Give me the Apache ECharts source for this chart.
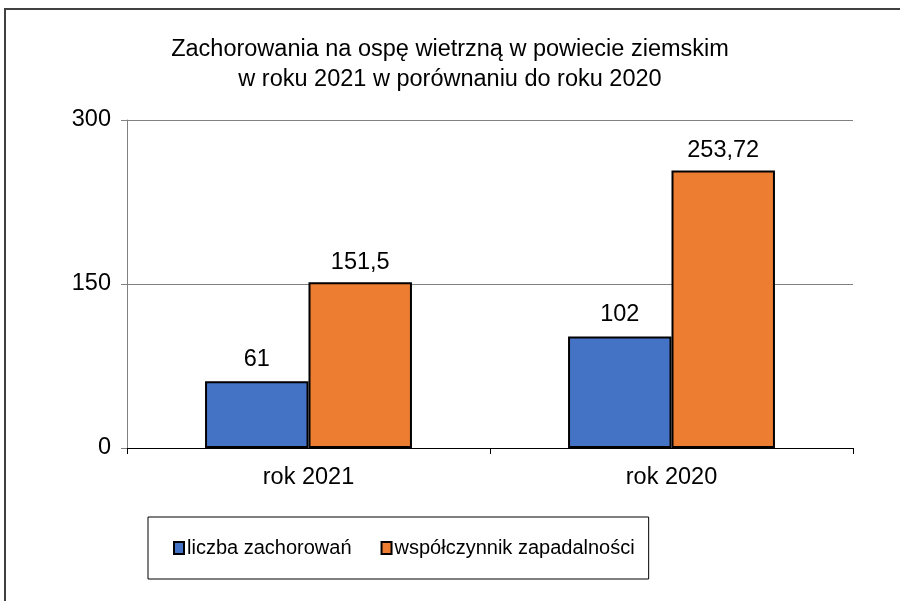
<!DOCTYPE html>
<html>
<head>
<meta charset="utf-8">
<script src="https://cdn.jsdelivr.net/npm/echarts@6/dist/echarts.min.js"></script>
<style>
  html, body { margin: 0; padding: 0; background: #fff; }
  #chart { width: 900px; height: 601px; }
</style>
</head>
<body>
<div id="chart"></div>
<script>
  // dane
  var categories = ['rok 2021', 'rok 2020'];
  var liczbaZachorowan = [61, 102];
  var wspolczynnik = [151.5, 253.72];
  var seriesNames = ['liczba zachorowań', 'współczynnik zapadalności'];

  var chart = echarts.init(document.getElementById('chart'));
  var fontFamily = '"Liberation Sans", Arial, sans-serif';

  // etykiety z przecinkiem dziesiętnym
  function plNum(p) {
    return String(p.value).replace('.', ',');
  }

  var option = {
    backgroundColor: '#fff',
    textStyle: { fontFamily: fontFamily },
    title: {
      text: 'Zachorowania na ospę wietrzną w powiecie ziemskim\nw roku 2021 w porównaniu do roku 2020',
      left: 'center',
      top: 30,
      textStyle: {
        fontSize: 23.5,
        fontWeight: 'normal',
        color: '#000',
        lineHeight: 30,
        fontFamily: fontFamily
      }
    },
    graphic: [
      {
        type: 'polyline',
        shape: { points: [[5, 601], [5, 9], [900, 9]] },
        style: { stroke: '#404040', lineWidth: 2, fill: null },
        silent: true
      }
    ],
    legend: {
      data: seriesNames,
      left: 148,
      top: 517,
      orient: 'horizontal',
      padding: [21, 14, 21, 25],
      itemGap: 29,
      itemWidth: 10,
      itemHeight: 12,
      icon: 'rect',
      borderColor: '#000',
      borderWidth: 1,
      itemStyle: { borderColor: '#000', borderWidth: 2 },
      textStyle: { fontSize: 20, color: '#000', padding: [0, 0, 0, -2] }
    },
    grid: {
      left: 127,
      right: 47,
      top: 120,
      bottom: 153
    },
    xAxis: {
      type: 'category',
      data: categories,
      axisLine: { show: true, lineStyle: { color: '#000', width: 1 } },
      axisTick: { show: true, alignWithLabel: false, length: 6, lineStyle: { color: '#000' } },
      axisLabel: { fontSize: 23.5, color: '#000', margin: 18 }
    },
    yAxis: {
      type: 'value',
      min: 0,
      max: 300,
      interval: 150,
      axisLine: { show: true, lineStyle: { color: '#808080', width: 1 } },
      axisTick: { show: true, length: 6, lineStyle: { color: '#808080' } },
      axisLabel: { fontSize: 23.5, color: '#000', margin: 16 },
      splitLine: { show: true, lineStyle: { color: '#808080', width: 1 } }
    },
    series: [
      {
        name: seriesNames[0],
        type: 'bar',
        data: liczbaZachorowan,
        barWidth: '28.5%',
        barGap: '0%',
        itemStyle: { color: '#4472C4', borderColor: '#000', borderWidth: 2 },
        label: {
          show: true,
          position: 'top',
          distance: 10,
          fontSize: 23.5,
          color: '#000',
          formatter: plNum
        }
      },
      {
        name: seriesNames[1],
        type: 'bar',
        data: wspolczynnik,
        barWidth: '28.5%',
        barGap: '0%',
        itemStyle: { color: '#ED7D31', borderColor: '#000', borderWidth: 2 },
        label: {
          show: true,
          position: 'top',
          distance: 8,
          fontSize: 23.5,
          color: '#000',
          formatter: plNum
        }
      }
    ]
  };

  chart.setOption(option, true);
</script>
</body>
</html>
